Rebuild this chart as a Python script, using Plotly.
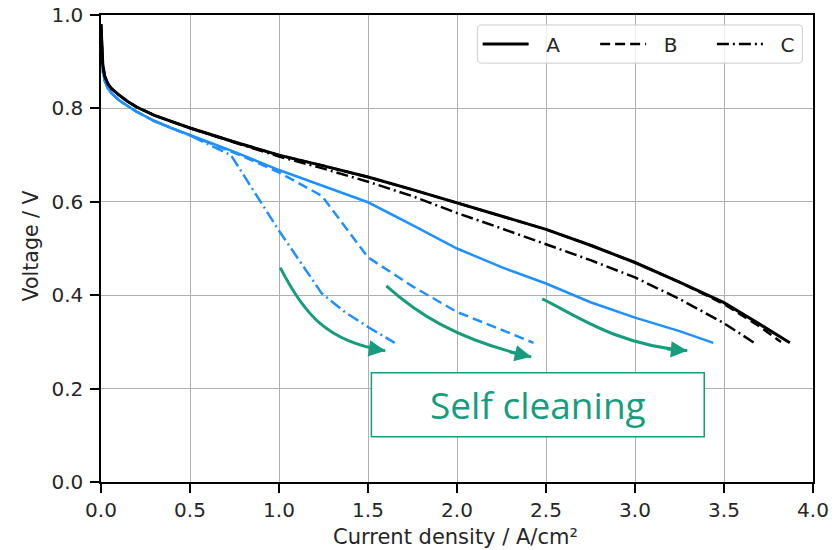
import plotly.graph_objects as go

# ---------------- data ----------------
early_x = [0, 0.003, 0.006, 0.01, 0.02, 0.04, 0.06, 0.1, 0.15, 0.2, 0.3, 0.4, 0.5]

black_a_x = early_x + [0.75, 1.0, 1.25, 1.5, 1.75, 2.0, 2.25, 2.5, 2.75, 3.0, 3.25, 3.5, 3.7, 3.87]
black_a_v = [0.98, 0.95, 0.92, 0.895, 0.87, 0.852, 0.842, 0.829, 0.815, 0.803, 0.785, 0.771, 0.758,
             0.728, 0.700, 0.677, 0.653, 0.626, 0.598, 0.570, 0.541, 0.507, 0.470, 0.428, 0.384, 0.338, 0.298]

black_b_x = early_x + [0.75, 1.0, 1.25, 1.5, 1.75, 2.0, 2.25, 2.5, 2.75, 3.0, 3.25, 3.5, 3.7, 3.82]
black_b_v = [0.98, 0.95, 0.92, 0.895, 0.87, 0.852, 0.842, 0.829, 0.815, 0.803, 0.785, 0.771, 0.758,
             0.728, 0.700, 0.677, 0.653, 0.626, 0.598, 0.570, 0.541, 0.507, 0.470, 0.428, 0.381, 0.333, 0.300]

black_c_x = early_x + [0.75, 1.0, 1.25, 1.5, 1.75, 2.0, 2.25, 2.5, 2.75, 3.0, 3.25, 3.5, 3.67]
black_c_v = [0.98, 0.95, 0.92, 0.895, 0.87, 0.852, 0.842, 0.829, 0.815, 0.803, 0.785, 0.771, 0.758,
             0.727, 0.697, 0.671, 0.643, 0.612, 0.576, 0.543, 0.509, 0.475, 0.438, 0.392, 0.340, 0.298]

blue_a_x = early_x + [0.75, 1.0, 1.25, 1.5, 1.75, 2.0, 2.25, 2.5, 2.75, 3.0, 3.25, 3.44]
blue_a_v = [0.96, 0.93, 0.90, 0.88, 0.86, 0.842, 0.832, 0.818, 0.805, 0.793, 0.773, 0.757, 0.743,
            0.707, 0.668, 0.634, 0.599, 0.550, 0.500, 0.460, 0.425, 0.385, 0.352, 0.323, 0.298]

blue_b_x = early_x + [0.75, 1.0, 1.24, 1.5, 1.75, 2.0, 2.25, 2.43]
blue_b_v = [0.96, 0.93, 0.90, 0.88, 0.86, 0.842, 0.832, 0.818, 0.805, 0.793, 0.773, 0.757, 0.742,
            0.705, 0.663, 0.613, 0.481, 0.419, 0.364, 0.326, 0.298]

blue_c_x = early_x + [0.73, 0.85, 1.0, 1.12, 1.24, 1.37, 1.5, 1.65]
blue_c_v = [0.96, 0.93, 0.90, 0.88, 0.86, 0.842, 0.832, 0.818, 0.805, 0.793, 0.773, 0.757, 0.742,
            0.700, 0.628, 0.538, 0.471, 0.404, 0.364, 0.332, 0.298]

legend_labels = ["A", "B", "C"]
x_title = "Current density / A/cm²"
y_title = "Voltage / V"

# arrows: cubic bezier control points (x, V)
arrows = [
    [(1.007, 0.459), (1.140, 0.360), (1.270, 0.300), (1.597, 0.281)],
    [(1.603, 0.420), (1.766, 0.364), (1.990, 0.305), (2.417, 0.268)],
    [(2.479, 0.392), (2.665, 0.358), (2.889, 0.294), (3.294, 0.281)],
]
label_text = "Self cleaning"
label_box = (1.519, 0.097, 3.389, 0.234)  # x0, y0, x1, y1

x_ticks = [0.0, 0.5, 1.0, 1.5, 2.0, 2.5, 3.0, 3.5, 4.0]
y_ticks = [0.0, 0.2, 0.4, 0.6, 0.8, 1.0]

# ---------------- styles ----------------
BLUE = "#1E90FF"
GREEN = "#179C7D"
TXT = "#262626"
DASH = "10px,5px"
DASHDOT = "12px,4px,2px,4px"
FONT = "DejaVu Sans"

fig = go.Figure()

fig.add_trace(go.Scatter(x=blue_c_x, y=blue_c_v, mode="lines", showlegend=False,
                         line=dict(color=BLUE, width=2.5, dash=DASHDOT)))
fig.add_trace(go.Scatter(x=blue_b_x, y=blue_b_v, mode="lines", showlegend=False,
                         line=dict(color=BLUE, width=2.5, dash=DASH)))
fig.add_trace(go.Scatter(x=blue_a_x, y=blue_a_v, mode="lines", showlegend=False,
                         line=dict(color=BLUE, width=2.5)))
fig.add_trace(go.Scatter(x=black_c_x, y=black_c_v, mode="lines",
                         name="\u00a0\u00a0" + legend_labels[2], legend="legend3",
                         line=dict(color="black", width=2.5, dash=DASHDOT)))
fig.add_trace(go.Scatter(x=black_a_x, y=black_a_v, mode="lines",
                         name="\u00a0\u00a0" + legend_labels[0], legend="legend",
                         line=dict(color="black", width=3)))
fig.add_trace(go.Scatter(x=black_b_x, y=black_b_v, mode="lines",
                         name="\u00a0\u00a0" + legend_labels[1], legend="legend2",
                         line=dict(color="black", width=2.5, dash=DASH)))

shapes = []
annotations = []
for p0, p1, p2, p3 in arrows:
    path = (f"M {p0[0]},{p0[1]} C {p1[0]},{p1[1]} {p2[0]},{p2[1]} {p3[0]},{p3[1]}")
    shapes.append(dict(type="path", path=path, xref="x", yref="y",
                       line=dict(color=GREEN, width=3)))
    tail = (p3[0] + (p2[0] - p3[0]) * 0.3, p3[1] + (p2[1] - p3[1]) * 0.3)
    annotations.append(dict(x=p3[0], y=p3[1], ax=tail[0], ay=tail[1],
                            xref="x", yref="y", axref="x", ayref="y",
                            text="", showarrow=True, arrowhead=2, arrowsize=1.1,
                            arrowwidth=3, arrowcolor=GREEN, standoff=0))

bx0, by0, bx1, by1 = label_box
shapes.append(dict(type="rect", xref="x", yref="y", x0=bx0, y0=by0, x1=bx1, y1=by1,
                   line=dict(color=GREEN, width=1.5), fillcolor="white", layer="above"))
annotations.append(dict(x=(bx0 + bx1) / 2, y=(by0 + by1) / 2, xref="x", yref="y",
                        text=label_text, showarrow=False,
                        font=dict(family="Open Sans", size=37, color=GREEN)))

# axis titles
annotations.append(dict(x=0.4985, y=-0.117, xref="paper", yref="paper", text=x_title,
                        showarrow=False, xanchor="center", yanchor="middle",
                        font=dict(family=FONT, size=21, color=TXT)))
annotations.append(dict(x=-0.098, y=0.505, xref="paper", yref="paper", text=y_title,
                        showarrow=False, xanchor="center", yanchor="middle", textangle=-90,
                        font=dict(family=FONT, size=20.5, color=TXT)))

# legend frame (rounded box) in paper coordinates
lx0, lx1, ly0, ly1 = 0.5285, 0.985, 0.897, 0.9786
rx, ry = 0.0056, 0.0086
frame = (f"M {lx0+rx},{ly1} L {lx1-rx},{ly1} Q {lx1},{ly1} {lx1},{ly1-ry} "
         f"L {lx1},{ly0+ry} Q {lx1},{ly0} {lx1-rx},{ly0} L {lx0+rx},{ly0} "
         f"Q {lx0},{ly0} {lx0},{ly0+ry} L {lx0},{ly1-ry} Q {lx0},{ly1} {lx0+rx},{ly1} Z")
shapes.append(dict(type="path", path=frame, xref="paper", yref="paper",
                   line=dict(color="#cccccc", width=1), fillcolor="rgba(255,255,255,0.8)",
                   layer="above"))

axis_common = dict(showline=True, linecolor="black", linewidth=1.5, mirror=True,
                   showgrid=True, gridcolor="#b0b0b0", gridwidth=1, zeroline=False,
                   ticks="outside", ticklen=9, tickwidth=1.5, tickcolor="black",
                   automargin=False,
                   tickfont=dict(family=FONT, size=20, color=TXT))

leg_common = dict(orientation="v", yanchor="middle", y=0.938, xanchor="left",
                  bgcolor="rgba(0,0,0,0)", borderwidth=0, itemwidth=46,
                  font=dict(family=FONT, size=20, color=TXT))

fig.update_layout(
    width=840, height=550,
    margin=dict(l=101, r=27, t=15, b=68),
    paper_bgcolor="white", plot_bgcolor="white",
    font=dict(family=FONT, size=20, color=TXT),
    shapes=shapes, annotations=annotations,
    legend=dict(x=0.529, **leg_common),
    legend2=dict(x=0.694, **leg_common),
    legend3=dict(x=0.858, **leg_common),
    xaxis=dict(range=[0, 4], tickvals=x_ticks, ticktext=[f"{v:.1f}" for v in x_ticks],
               ticklabelstandoff=0, **axis_common),
    yaxis=dict(range=[0, 1.0], tickvals=y_ticks, ticktext=[f"{v:.1f}" for v in y_ticks],
               ticklabelstandoff=3, **axis_common),
)

fig.write_html("out.html")
